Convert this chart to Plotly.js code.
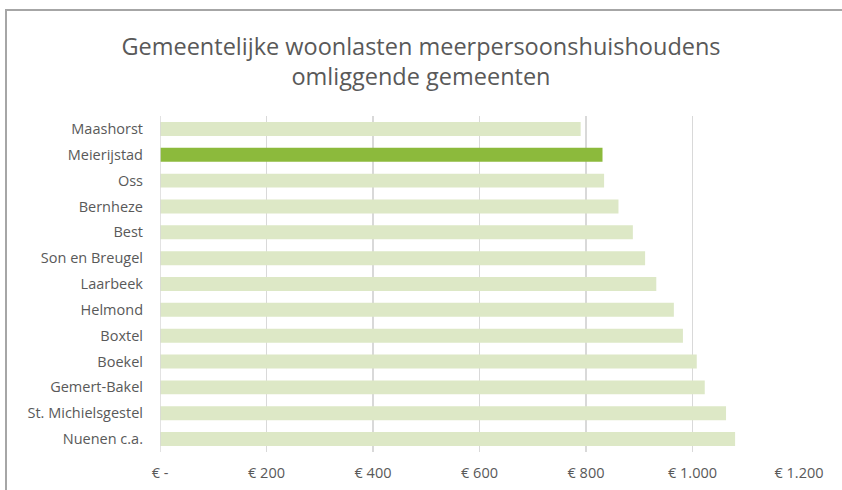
<!DOCTYPE html>
<html>
<head>
<meta charset="utf-8">
<script src="https://cdn.plot.ly/plotly-3.0.1.min.js"></script>
<style>
  html, body { margin: 0; padding: 0; background: #ffffff; }
  #frame { position: absolute; left: 5px; top: 9px; width: 900px; height: 600px;
           border-top: 2px solid #a6a6a6; border-left: 2px solid #a6a6a6; }
  #chart { position: absolute; left: 0; top: 0; width: 842px; height: 490px; }
</style>
</head>
<body>
<div id="frame"></div>
<div id="chart"></div>
<script>
const gemeenten = ["Maashorst", "Meierijstad", "Oss", "Bernheze", "Best", "Son en Breugel",
  "Laarbeek", "Helmond", "Boxtel", "Boekel", "Gemert-Bakel", "St. Michielsgestel", "Nuenen c.a."];
const woonlasten = [790, 831, 834, 861, 888, 911, 932, 965, 982, 1008, 1023, 1063, 1080];
const highlight = "Meierijstad";
const tickValues = [0, 200, 400, 600, 800, 1000, 1200];
const tickLabels = ["€ -", "€ 200", "€ 400", "€ 600", "€ 800", "€ 1.000", "€ 1.200"];

const colors = gemeenten.map(g => g === highlight ? "#8cba3c" : "#dde8c6");

const trace = {
  type: "bar",
  orientation: "h",
  y: gemeenten,
  x: woonlasten,
  marker: { color: colors },
  width: 0.54,
  hoverinfo: "x+y"
};

const FONT = "'Open Sans', Lato, sans-serif";

const layout = {
  width: 842,
  height: 490,
  paper_bgcolor: "rgba(0,0,0,0)",
  plot_bgcolor: "rgba(0,0,0,0)",
  margin: { l: 160, r: 43, t: 116, b: 38 },
  font: { family: FONT, color: "#595959", size: 14 },
  title: {
    text: "Gemeentelijke woonlasten meerpersoonshuishoudens<br>omliggende gemeenten",
    font: { family: FONT, size: 23.5, color: "#595959" },
    x: 0.5, xanchor: "center",
    y: 0.888, yanchor: "middle", yref: "container"
  },
  xaxis: {
    range: [0, 1200],
    tickvals: tickValues,
    ticktext: tickLabels,
    showgrid: true,
    gridcolor: "#d9d9d9",
    gridwidth: 1.5,
    zeroline: false,
    showline: false,
    ticks: "",
    tickfont: { size: 14.5, color: "#595959" },
    ticklabelstandoff: 10,
    fixedrange: true
  },
  yaxis: {
    autorange: "reversed",
    type: "category",
    showgrid: false,
    zeroline: false,
    showline: false,
    ticks: "",
    ticklabelstandoff: 16,
    tickfont: { size: 14.5, color: "#595959" },
    fixedrange: true
  },
  shapes: [{
    type: "line", xref: "x", yref: "paper", x0: 0, x1: 0, y0: 0, y1: 1,
    line: { color: "#d9d9d9", width: 1.5 }
  }],
  bargap: 0.46,
  showlegend: false
};

Plotly.newPlot("chart", [trace], layout, { displayModeBar: false, staticPlot: true });
</script>
</body>
</html>
